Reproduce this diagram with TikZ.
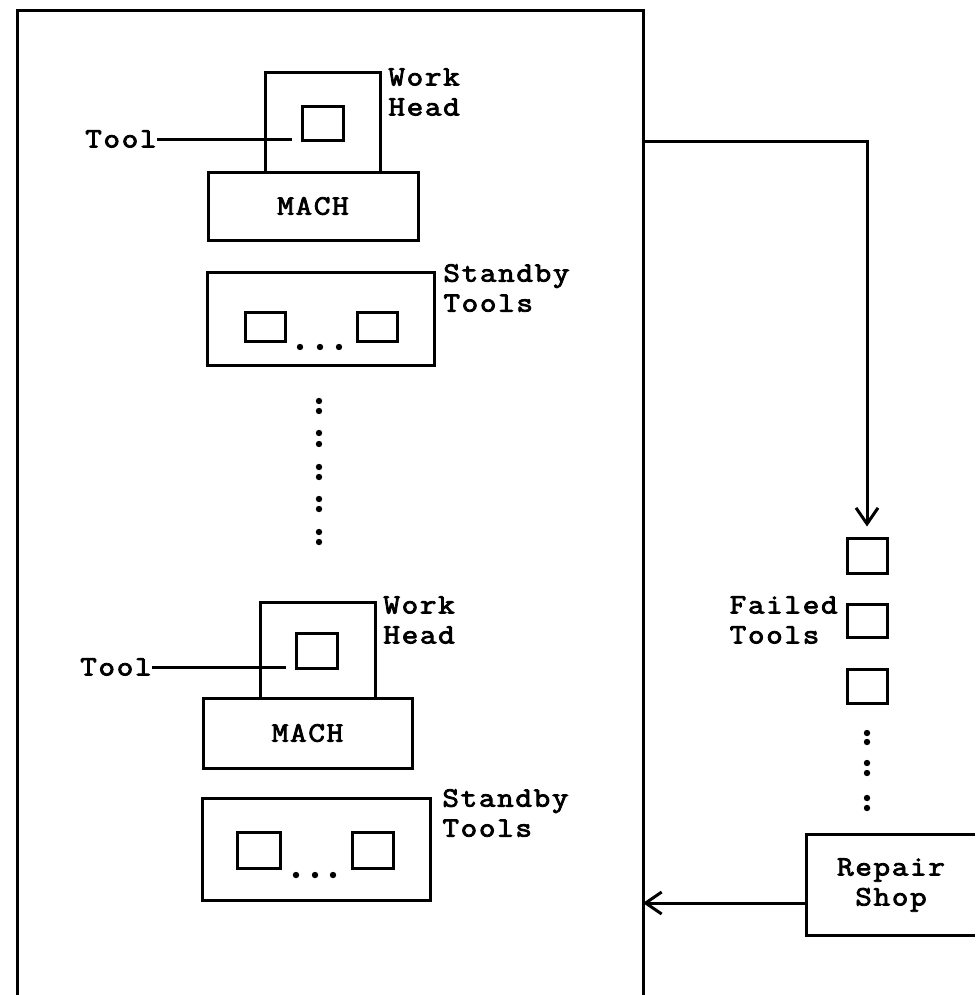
\documentclass[tikz,border=0pt]{standalone}
\usepackage{fontspec}
\newfontfamily\typewfont[FakeStretch=1.15,LetterSpace=6,FakeBold=3]{Latin Modern Mono}
\newcommand\twfont{\typewfont\fontsize{14}{15}\selectfont}
\usetikzlibrary{arrows.meta}
\begin{document}
\begin{tikzpicture}[x=0.5pt,y=-0.5pt,
  thickline/.style={line width=1.5pt},
  box/.style={draw, line width=1.5pt, rectangle, inner sep=0pt},
  lbl/.style={font=\twfont, inner sep=0pt, align=left},
  dot/.style={circle, fill, inner sep=0pt, minimum size=3.2pt},
  arr/.style={line width=1.5pt, -{Straight Barb[length=8pt,width=11pt]}}]
\useasboundingbox (0,0) rectangle (975,995);

% main frame (open at bottom)
\coordinate (bl) at (17,995);
\coordinate (tl) at (17,11);
\coordinate (tr) at (643,11);
\coordinate (br) at (643,995);
\draw[thickline] (bl) -- (tl) -- (tr) -- (br);
\coordinate (outA) at (643,141);

% ---------- upper machine ----------
\node[box, minimum width=57.5pt, minimum height=49.5pt] (wh1) at (322.5,122.5) {};
\node[box, minimum width=105pt, minimum height=34pt, font=\twfont] (m1) at (313,206) {MACH};
\node[box, minimum width=20.5pt, minimum height=16.5pt] (t1) at (322.5,123.5) {};
\node[lbl, anchor=east] (tl1) at (157,139) {Tool};
\draw[thickline] (tl1.east) -- ([xshift=-4.5pt]tl1.east -| t1.west);
\node[lbl, anchor=west] (wl1) at (388,92) {Work\\Head};

\node[box, minimum width=113.5pt, minimum height=46.5pt] (s1) at (320.5,318.5) {};
\node[box, minimum width=20pt, minimum height=14.5pt] (s1a) at (265,327) {};
\node[box, minimum width=20pt, minimum height=14.5pt] (s1b) at (377.5,327) {};
\node[dot] (s1d1) at (300,347) {};
\node[dot] (s1d2) at (320,347) {};
\node[dot] (s1d3) at (339,347) {};
\node[lbl, anchor=west] (sl1) at (443,288) {Standby\\Tools};

% vertical ellipsis
\foreach \yy [count=\i] in {401,411,433,444,467,477,499,509,532,542}
  \node[dot] (vd\i) at (319,\yy) {};

% ---------- lower machine ----------
\node[box, minimum width=57.5pt, minimum height=48pt] (wh2) at (317.5,650) {};
\node[box, minimum width=104.5pt, minimum height=35pt, font=\twfont] (m2) at (307.5,733) {MACH};
\node[box, minimum width=20.5pt, minimum height=17.5pt] (t2) at (316.5,650.5) {};
\node[lbl, anchor=east] (tl2) at (152,667) {Tool};
\draw[thickline] (tl2.east) -- ([xshift=-4.5pt]tl2.east -| t2.west);
\node[lbl, anchor=west] (wl2) at (383,620) {Work\\Head};

\node[box, minimum width=114pt, minimum height=51pt] (s2) at (316,849) {};
\node[box, minimum width=21.5pt, minimum height=18pt] (s2a) at (258.5,850) {};
\node[box, minimum width=20.5pt, minimum height=18pt] (s2b) at (372.5,850) {};
\node[dot] (s2d1) at (296,875) {};
\node[dot] (s2d2) at (315,875) {};
\node[dot] (s2d3) at (333,875) {};
\node[lbl, anchor=west] (sl2) at (442,813) {Standby\\Tools};

% ---------- failed tools ----------
\node[box, minimum width=20pt, minimum height=17.5pt] (f1) at (867,555.5) {};
\node[box, minimum width=20pt, minimum height=16.5pt] (f2) at (867,620.5) {};
\node[box, minimum width=20pt, minimum height=17pt] (f3) at (867,686) {};
\node[lbl, anchor=east] (fl) at (838,620) {Failed\\Tools};
\foreach \yy [count=\i] in {733,742,763,773,798,808}
  \node[dot] (fd\i) at (867,\yy) {};

% ---------- repair shop ----------
\node[lbl, align=center, minimum width=84pt, minimum height=50pt] (rep) at (891,885) {Repair\\Shop};
\draw[thickline] (rep.north east) -- (rep.north west) -- (rep.south west) -- (rep.south east);

% ---------- connectors ----------
\draw[arr] (outA) -| ([yshift=5pt]f1.north);
\draw[arr] ([yshift=-9pt]rep.west) -- ([yshift=-9pt]rep.west -| tr);
\end{tikzpicture}
\end{document}
